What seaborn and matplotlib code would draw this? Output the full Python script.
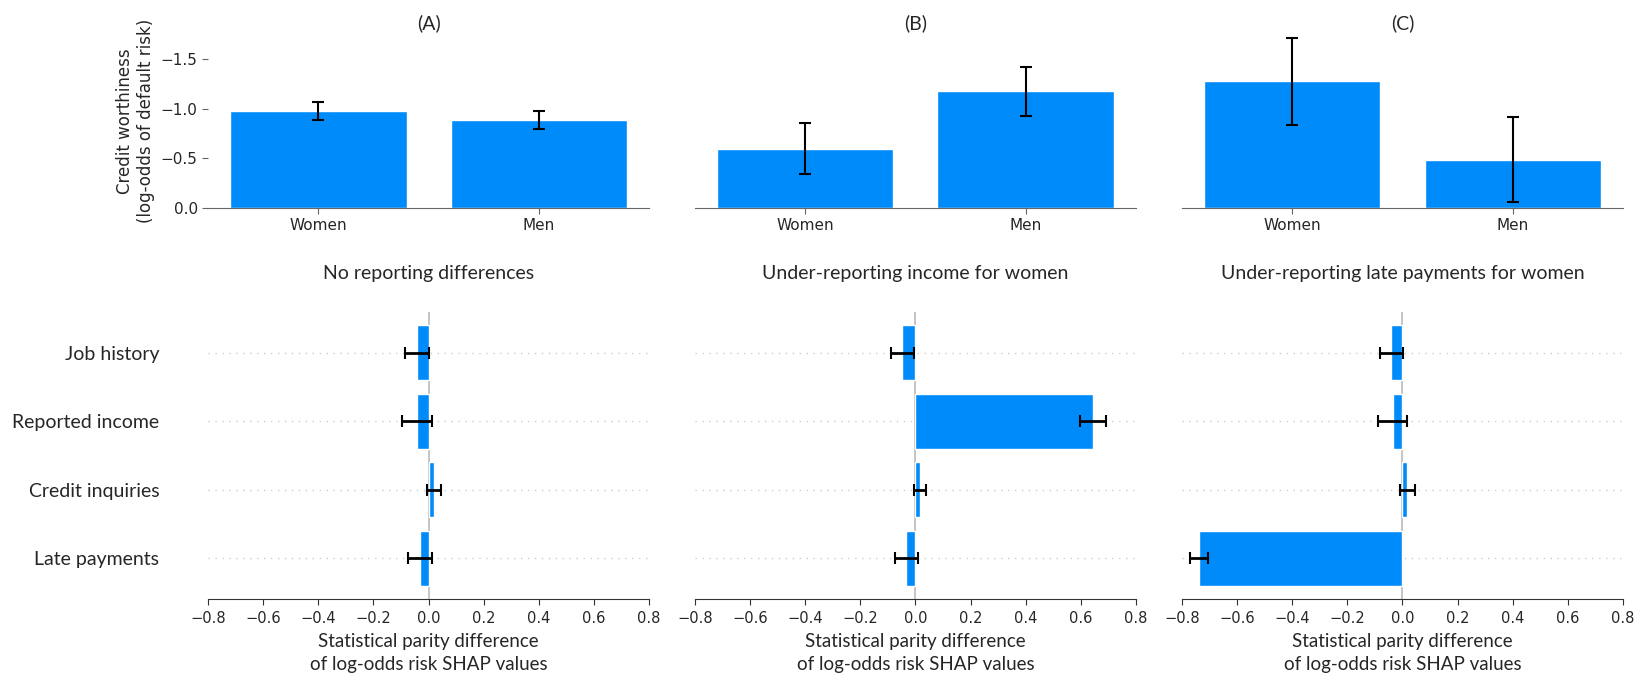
"""
Credit worthiness by group and SHAP statistical parity differences
"""

import matplotlib
matplotlib.use("Agg")
import matplotlib.pyplot as plt
import seaborn as sns

# datos
groups = ["Women", "Men"]
worthiness_a = [-0.977, -0.887]
worthiness_a_err = [0.087, 0.087]
worthiness_b = [-0.597, -1.177]
worthiness_b_err = [0.257, 0.248]
worthiness_c = [-1.277, -0.487]
worthiness_c_err = [0.438, 0.425]

features = ["Job history", "Reported income", "Credit inquiries", "Late payments"]
spd_a = [-0.043, -0.043, 0.020, -0.031]
spd_a_err = [0.043, 0.055, 0.027, 0.043]
spd_b = [-0.047, 0.645, 0.015, -0.033]
spd_b_err = [0.042, 0.047, 0.022, 0.041]
spd_c = [-0.040, -0.036, 0.018, -0.739]
spd_c_err = [0.041, 0.052, 0.027, 0.032]

top_titles = ["(A)", "(B)", "(C)"]
bottom_titles = ["No reporting differences",
                 "Under-reporting income for women",
                 "Under-reporting late payments for women"]

blue = "#008bfb"
label_font = "Lato"

sns.set_style("white")
plt.rcParams["font.family"] = ["DejaVu Sans"]

fig = plt.figure(figsize=(16.41, 6.77), dpi=100)
lefts = [0.1268, 0.4235, 0.7203]
width = 0.2687

top_vals = [worthiness_a, worthiness_b, worthiness_c]
top_errs = [worthiness_a_err, worthiness_b_err, worthiness_c_err]
bot_vals = [spd_a, spd_b, spd_c]
bot_errs = [spd_a_err, spd_b_err, spd_c_err]

for i in range(3):
    # fila superior: barras por grupo
    ax = fig.add_axes([lefts[i], 0.6932, width, 0.2557])
    sns.barplot(x=groups, y=top_vals[i], color=blue, saturation=1,
                errorbar=None, width=0.8, ax=ax)
    ax.errorbar(range(len(groups)), top_vals[i], yerr=top_errs[i], fmt="none",
                ecolor="black", elinewidth=1.5, capsize=4, capthick=1.5)
    ax.set_xlim(-0.5, 1.5)
    ax.set_ylim(0, -1.75)
    ax.set_yticks([0, -0.5, -1.0, -1.5])
    for s in ["top", "right", "left"]:
        ax.spines[s].set_visible(False)
    ax.spines["bottom"].set_color("#666666")
    ax.tick_params(axis="x", bottom=True, length=4, color="#666666", labelsize=11)
    if i == 0:
        ax.tick_params(axis="y", left=True, length=4, color="#666666", labelsize=11)
        ax.set_ylabel("Credit worthiness\n(log-odds of default risk)", fontsize=12)
    else:
        ax.set_yticks([])
        ax.set_ylabel("")
    ax.set_title(top_titles[i], fontsize=14, fontfamily=label_font, pad=4)

    # fila inferior: diferencias SHAP
    ax = fig.add_axes([lefts[i], 0.1157, width, 0.4233])
    sns.barplot(x=bot_vals[i], y=features, color=blue, saturation=1,
                errorbar=None, width=0.8, orient="h", ax=ax, zorder=2)
    ax.errorbar(bot_vals[i], range(len(features)), xerr=bot_errs[i], fmt="none",
                ecolor="black", elinewidth=2, capsize=4, capthick=1.5, zorder=3)
    for y in range(len(features)):
        ax.axhline(y, color="#cccccc", lw=1, dashes=(1, 4), zorder=-1)
    ax.axvline(0, color="#bbbbbb", lw=1.2, zorder=1)
    ax.set_xlim(-0.8, 0.8)
    ax.set_ylim(3.59, -0.59)
    ax.set_xticks([-0.8, -0.6, -0.4, -0.2, 0.0, 0.2, 0.4, 0.6, 0.8])
    for s in ["top", "right", "left"]:
        ax.spines[s].set_visible(False)
    ax.spines["bottom"].set_color("#333333")
    ax.tick_params(axis="x", bottom=True, length=4, color="#333333",
                   labelsize=10.5, pad=5)
    ax.tick_params(axis="y", left=False, length=0, pad=35)
    if i == 0:
        ax.set_yticklabels(features, fontsize=14, fontfamily=label_font)
    else:
        ax.set_yticklabels([])
    ax.set_ylabel("")
    ax.set_xlabel("Statistical parity difference\nof log-odds risk SHAP values",
                  fontsize=13.5, fontfamily=label_font, linespacing=1.4,
                  labelpad=5)
    ax.set_title(bottom_titles[i], fontsize=14, fontfamily=label_font, pad=24)

fig.savefig("out.png", dpi=100)
